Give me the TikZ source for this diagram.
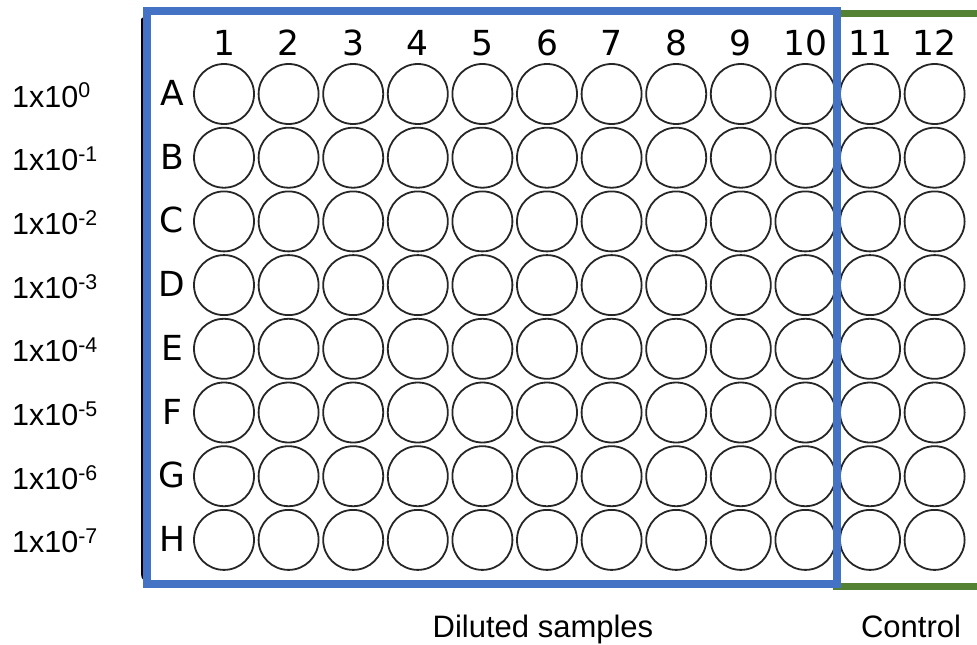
\documentclass[tikz,border=0pt]{standalone}
\usepackage{fontspec}
\setmainfont{Liberation Sans}
\newfontfamily\dejavu{DejaVu Sans}
\definecolor{plateblue}{HTML}{4472C4}
\definecolor{plategreen}{HTML}{548235}
\begin{document}
\begin{tikzpicture}[x=1pt,y=-1pt,
  well/.style={circle,draw=black!85,line width=1.8pt,minimum size=60pt,inner sep=0pt},
  platelab/.style={font=\dejavu\fontsize{34.5}{36}\selectfont,anchor=base,inner sep=0pt},
  dillab/.style={font=\fontsize{30.5}{36}\selectfont,anchor=base west,inner sep=0pt},
  caption/.style={font=\fontsize{31}{36}\selectfont,anchor=base,inner sep=0pt},
  frameblue/.style={draw=plateblue,line width=8pt},
  framegreen/.style={draw=plategreen,line width=7pt}]
\useasboundingbox (0,0) rectangle (977,645);
% plate edge
\draw[line width=3pt,line cap=round,rounded corners=8pt] (142.5,19) -- (142.5,582) -- (160,582);
% wells
\foreach \r [count=\i from 0] in {A,B,C,D,E,F,G,H}{
  \pgfmathsetmacro{\yy}{94+63.7*\i}
  \foreach \c in {1,...,12}{
    \pgfmathsetmacro{\xx}{224+64.6*(\c-1)}
    \node[well] (w-\r-\c) at (\xx,\yy) {};
  }
  \node[platelab] (row-\r) at (172,\yy+11.5) {\r};
}
\foreach \c in {1,...,12}{
  \pgfmathsetmacro{\xx}{224+64.6*(\c-1)}
  \node[platelab] (col-\c) at (\xx,55) {\c};
}
% dilution labels
\foreach \e [count=\i from 0] in {0,-1,-2,-3,-4,-5,-6,-7}{
  \pgfmathsetmacro{\yy}{94+63.7*\i+13}
  \node[dillab] (dil-\i) at (12,\yy) {1x10\textsuperscript{\e}};
}
% frames
\draw[framegreen] (841,13.5) -- (990,13.5);
\draw[framegreen] (833,586.5) -- (990,586.5);
\draw[frameblue] (147,11) rectangle (837,584);
% captions
\node[caption] (diluted) at (543,637) {Diluted samples};
\node[caption] (control) at (911,637) {Control};
\end{tikzpicture}
\end{document}
